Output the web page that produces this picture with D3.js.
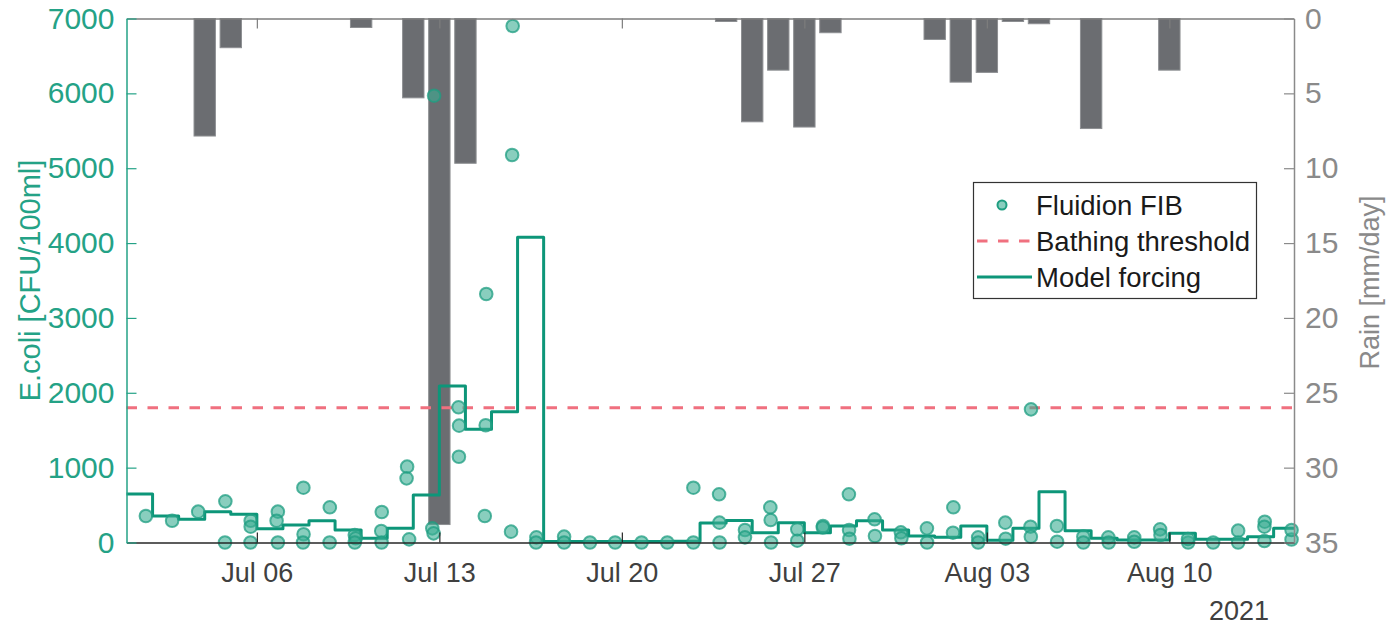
<!DOCTYPE html>
<html>
<head>
<meta charset="utf-8">
<script src="https://cdn.jsdelivr.net/npm/d3@7"></script>
<style>
  html, body { margin: 0; padding: 0; background: #fff; }
  svg text { font-family: "Liberation Sans", Arial, Helvetica, sans-serif; }
</style>
</head>
<body>
<svg id="chart" width="1390" height="626"></svg>
<script>
// Daily rain (mm/day), drawn as hanging bars on the reversed right axis
const rainDate = ["2021-07-04","2021-07-05","2021-07-10","2021-07-12","2021-07-13","2021-07-14",
  "2021-07-24","2021-07-25","2021-07-26","2021-07-27","2021-07-28",
  "2021-08-01","2021-08-02","2021-08-03","2021-08-04","2021-08-05","2021-08-07","2021-08-10"];
const rainMm = [7.85, 1.95, 0.6, 5.3, 33.8, 9.67,
  0.2, 6.9, 3.45, 7.25, 0.95,
  1.4, 4.25, 3.6, 0.2, 0.35, 7.35, 3.45];

// Fluidion FIB samples (E.coli, CFU/100ml)
const fibTime = [
  "2021-07-01 17:50","2021-07-02 18:00","2021-07-03 18:00",
  "2021-07-04 19:00","2021-07-04 18:40",
  "2021-07-05 18:20","2021-07-05 18:20","2021-07-05 18:10",
  "2021-07-06 19:20","2021-07-06 18:10","2021-07-06 19:20",
  "2021-07-07 18:50","2021-07-07 19:00","2021-07-07 18:30",
  "2021-07-08 19:10","2021-07-08 19:00",
  "2021-07-09 18:10","2021-07-09 19:00","2021-07-09 18:10",
  "2021-07-10 19:00","2021-07-10 18:30","2021-07-10 18:50",
  "2021-07-11 18:20","2021-07-11 17:50","2021-07-11 20:10",
  "2021-07-12 17:30","2021-07-12 18:40","2021-07-12 19:10",
  "2021-07-13 17:40","2021-07-13 18:10","2021-07-13 18:00",
  "2021-07-14 19:10","2021-07-14 18:40","2021-07-14 17:50",
  "2021-07-15 19:30","2021-07-15 19:00","2021-07-15 18:00",
  "2021-07-16 17:20","2021-07-16 17:00",
  "2021-07-17 18:50","2021-07-17 18:50",
  "2021-07-18 18:40","2021-07-19 17:50","2021-07-20 18:10","2021-07-21 17:50",
  "2021-07-22 17:50","2021-07-22 17:50",
  "2021-07-23 17:30","2021-07-23 17:50","2021-07-23 18:00",
  "2021-07-24 17:20","2021-07-24 17:20",
  "2021-07-25 16:40","2021-07-25 17:00","2021-07-25 17:20",
  "2021-07-26 17:30","2021-07-26 17:30",
  "2021-07-27 17:10","2021-07-27 17:00",
  "2021-07-28 17:00","2021-07-28 17:10","2021-07-28 17:30",
  "2021-07-29 16:40","2021-07-29 17:00",
  "2021-07-30 16:50","2021-07-30 17:20",
  "2021-07-31 16:50","2021-07-31 17:00",
  "2021-08-01 17:10","2021-08-01 16:50",
  "2021-08-02 16:00","2021-08-02 16:00",
  "2021-08-03 17:00","2021-08-03 17:20",
  "2021-08-04 16:40","2021-08-04 16:10","2021-08-04 16:30",
  "2021-08-05 16:30","2021-08-05 16:40",
  "2021-08-06 16:50","2021-08-06 16:50",
  "2021-08-07 15:50","2021-08-07 16:10",
  "2021-08-08 15:40","2021-08-08 15:40",
  "2021-08-09 15:30","2021-08-09 15:50",
  "2021-08-10 17:20","2021-08-10 17:10",
  "2021-08-11 16:20",
  "2021-08-12 15:20","2021-08-12 15:20",
  "2021-08-13 15:30","2021-08-13 15:50","2021-08-13 15:30",
  "2021-08-14 16:30","2021-08-14 16:30"];
const fibValue = [
  354, 291, 412,
  550, 0,
  291, 211, 0,
  412, 291, 0,
  732, 110, 0,
  470, 0,
  100, 57, 0,
  407, 154, 0,
  1013, 857, 42,
  189, 122, 5969,
  1806, 1561, 1146,
  3320, 1566, 354,
  6900, 5177, 145,
  69, 0,
  78, 0,
  0, 0, 0, 0,
  732, 0,
  644, 265, 0,
  167, 69,
  470, 300, 0,
  176, 24,
  220, 200,
  644, 167, 51,
  310, 87,
  136, 56,
  189, 0,
  470, 131,
  69, 0,
  265, 51,
  1779, 211, 78,
  220, 11,
  78, 0,
  69, 0,
  69, 10,
  176, 100,
  0,
  47, 0,
  158, 0, 20,
  278, 211, 40,
  167, 0];

// Model forcing: one value per day, Jul 01 .. Aug 14
const modelStart = "2021-07-01";
const modelValue = [
  648, 354, 310, 412, 376, 185, 234, 291, 167, 56,
  189, 634, 2090, 1512, 1748, 4077, 15, 15, 12, 12,
  15, 18, 260, 295, 131, 265, 131, 220, 291, 167,
  87, 69, 220, 30, 189, 679, 158, 56, 33, 33,
  122, 42, 42, 78, 189];

const threshold = 1800;

const yLeftTicks = [0, 1000, 2000, 3000, 4000, 5000, 6000, 7000];
const yRightTicks = [0, 5, 10, 15, 20, 25, 30, 35];
const xTickDates = ["2021-07-06","2021-07-13","2021-07-20","2021-07-27","2021-08-03","2021-08-10"];
const xDomain = ["2021-07-01 00:00", "2021-08-14 18:45"];

const legendLabels = ["Fluidion FIB", "Bathing threshold", "Model forcing"];

// ---- layout & styles ----
const plot = { left: 126.5, right: 1294, top: 18.5, bottom: 542.5 };
const teal = "#24a286";
const tealLine = "#0d9679";
const greyAxis = "#8a8a8a";
const rainFill = "#6b6d71";
const threshColor = "#f0707f";
const xFont = 27, yFont = 30;

const parseDay = d3.timeParse("%Y-%m-%d");
const parseTime = d3.timeParse("%Y-%m-%d %H:%M");

const svg = d3.select("#chart");

const x = d3.scaleTime()
  .domain(xDomain.map(parseTime))
  .range([plot.left, plot.right]);
const yL = d3.scaleLinear().domain([0, 7000]).range([plot.bottom, plot.top]);
const yR = d3.scaleLinear().domain([0, 35]).range([plot.top, plot.bottom]);

// ---- rain bars (hang from the top, right axis reversed) ----
const dayMs = 24 * 3600 * 1000;
const barHalf = 0.41 * dayMs;
const rain = rainDate.map((d, i) => ({ t: parseDay(d), v: rainMm[i] }));
svg.append("g").selectAll("rect").data(rain).join("rect")
  .attr("x", d => x(new Date(+d.t - barHalf)))
  .attr("width", d => x(new Date(+d.t + barHalf)) - x(new Date(+d.t - barHalf)))
  .attr("y", yR(0))
  .attr("height", d => yR(d.v) - yR(0))
  .attr("fill", rainFill)
  .attr("stroke", "#8d8f92")
  .attr("stroke-width", 1);

// ---- bathing threshold ----
svg.append("line")
  .attr("x1", plot.left).attr("x2", plot.right)
  .attr("y1", yL(threshold)).attr("y2", yL(threshold))
  .attr("stroke", threshColor)
  .attr("stroke-width", 3)
  .attr("stroke-dasharray", "10.5,10.5");

// ---- model forcing (daily stairs) ----
const t0 = parseDay(modelStart);
const model = modelValue.map((v, i) => ({ t: d3.timeDay.offset(t0, i), v }));
model.push({ t: x.domain()[1], v: modelValue[modelValue.length - 1] });
svg.append("path")
  .datum(model)
  .attr("fill", "none")
  .attr("stroke", tealLine)
  .attr("stroke-width", 3)
  .attr("stroke-linejoin", "round")
  .attr("d", d3.line().x(d => x(d.t)).y(d => yL(d.v)).curve(d3.curveStepAfter));

// ---- FIB samples ----
const fib = fibTime.map((s, i) => ({ t: parseTime(s), v: fibValue[i] }));
svg.append("g").selectAll("circle").data(fib).join("circle")
  .attr("cx", d => x(d.t))
  .attr("cy", d => yL(d.v))
  .attr("r", 6.3)
  .attr("fill", "#3aae92")
  .attr("fill-opacity", 0.6)
  .attr("stroke", "#1f9e81")
  .attr("stroke-opacity", 0.75)
  .attr("stroke-width", 2);

// ---- axes ----
function styleAxis(g, color, size) {
  g.selectAll("path.domain").attr("stroke", color).attr("stroke-width", 1.5);
  g.selectAll(".tick line").attr("stroke", color).attr("stroke-width", 1.2);
  g.selectAll(".tick text").attr("fill", color).style("font-size", size + "px").attr("font-family", null);
}

// top border with inward ticks
svg.append("g")
  .attr("transform", `translate(0,${plot.top})`)
  .call(d3.axisTop(x).tickValues(xTickDates.map(parseDay)).tickSize(-10).tickSizeOuter(0).tickFormat(""))
  .call(g => styleAxis(g, "#7d7d7d", xFont));

// bottom date axis
const fmt = d3.timeFormat("%b %d");
const gx = svg.append("g")
  .attr("transform", `translate(0,${plot.bottom})`)
  .call(d3.axisBottom(x).tickValues(xTickDates.map(parseDay)).tickSize(-10).tickSizeOuter(0)
    .tickPadding(20).tickFormat(fmt))
  .call(g => styleAxis(g, "#262626", xFont));
gx.selectAll(".tick text").attr("fill", "#404040");

// year label
svg.append("text")
  .attr("x", 1239).attr("y", 620)
  .attr("text-anchor", "middle")
  .attr("fill", "#404040")
  .style("font-size", xFont + "px")
  .text("2021");

// left axis (E.coli)
svg.append("g")
  .attr("transform", `translate(${plot.left},0)`)
  .call(d3.axisLeft(yL).tickValues(yLeftTicks).tickSize(-10).tickSizeOuter(0).tickPadding(12).tickFormat(d3.format("d")))
  .call(g => styleAxis(g, teal, yFont));

// right axis (rain)
svg.append("g")
  .attr("transform", `translate(${plot.right},0)`)
  .call(d3.axisRight(yR).tickValues(yRightTicks).tickSize(-10).tickSizeOuter(0).tickPadding(11).tickFormat(d3.format("d")))
  .call(g => styleAxis(g, greyAxis, yFont));

// axis titles
svg.append("text")
  .attr("transform", `translate(40,${(plot.top + plot.bottom) / 2}) rotate(-90)`)
  .attr("text-anchor", "middle")
  .attr("fill", teal)
  .style("font-size", "29px")
  .text("E.coli [CFU/100ml]");

svg.append("text")
  .attr("transform", `translate(1379,${(plot.top + plot.bottom) / 2 + 2}) rotate(-90)`)
  .attr("text-anchor", "middle")
  .attr("fill", greyAxis)
  .style("font-size", "27px")
  .text("Rain [mm/day]");

// ---- legend ----
const lg = svg.append("g");
lg.append("rect")
  .attr("x", 973.5).attr("y", 182.5)
  .attr("width", 283).attr("height", 116)
  .attr("fill", "#fff")
  .attr("stroke", "#333")
  .attr("stroke-width", 1.2);
const rowY = [205, 241, 277];
lg.append("circle")
  .attr("cx", 1002).attr("cy", rowY[0]).attr("r", 4.5)
  .attr("fill", "#3aae92").attr("fill-opacity", 0.6)
  .attr("stroke", "#1f9e81").attr("stroke-width", 2);
lg.append("line")
  .attr("x1", 977).attr("x2", 1032).attr("y1", rowY[1]).attr("y2", rowY[1])
  .attr("stroke", threshColor).attr("stroke-width", 3).attr("stroke-dasharray", "10.5,10.5");
lg.append("line")
  .attr("x1", 977).attr("x2", 1032).attr("y1", rowY[2]).attr("y2", rowY[2])
  .attr("stroke", tealLine).attr("stroke-width", 3);
lg.selectAll("text.lab").data(legendLabels).join("text")
  .attr("class", "lab")
  .attr("x", 1036).attr("y", (d, i) => rowY[i])
  .attr("dy", "0.36em")
  .attr("fill", "#1a1a1a")
  .style("font-size", "27.5px")
  .text(d => d);
</script>
</body>
</html>
